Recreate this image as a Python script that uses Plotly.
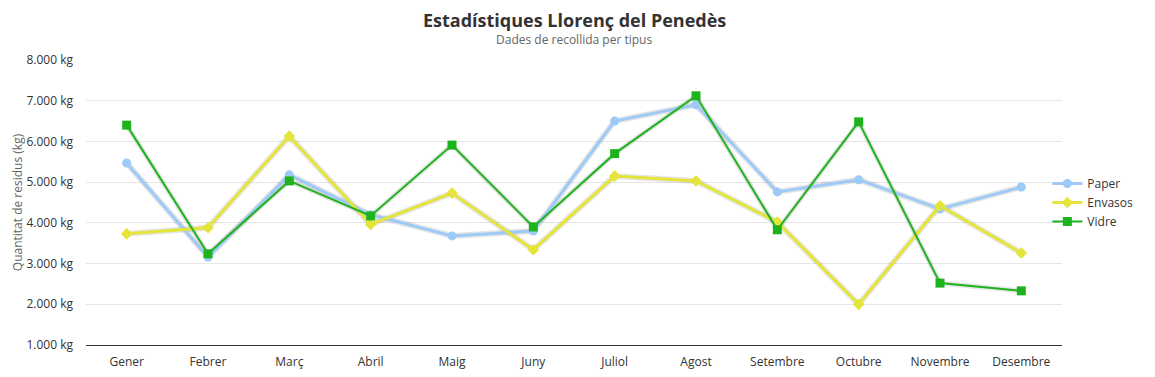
import plotly.graph_objects as go

months = ["Gener", "Febrer", "Març", "Abril", "Maig", "Juny", "Juliol",
          "Agost", "Setembre", "Octubre", "Novembre", "Desembre"]
paper = [5470, 3160, 5180, 4200, 3680, 3800, 6500, 6900, 4760, 5060, 4340, 4880]
envasos = [3730, 3880, 6130, 3960, 4730, 3340, 5150, 5030, 4020, 2000, 4420, 3260]
vidre = [6400, 3240, 5030, 4170, 5910, 3900, 5700, 7120, 3830, 6480, 2520, 2330]
y_ticks = [1000, 2000, 3000, 4000, 5000, 6000, 7000, 8000]
y_labels = [f"{v:,}".replace(",", ".") + " kg" for v in y_ticks]

series = [
    ("Paper", paper, "#9dcaf7", 3, "circle", 9),
    ("Envasos", envasos, "#e5e43a", 3, "diamond", 9),
    ("Vidre", vidre, "#1db31d", 2, "square", 9),
]

fig = go.Figure()
# soft shadows
for name, vals, color, w, sym, ms in series:
    fig.add_trace(go.Scatter(
        x=months, y=vals, mode="lines", showlegend=False, hoverinfo="skip",
        line=dict(color="rgba(0,0,0,0.10)", width=w + 3),
    ))
for name, vals, color, w, sym, ms in series:
    fig.add_trace(go.Scatter(
        x=months, y=vals, mode="lines+markers", name=name,
        line=dict(color=color, width=w),
        marker=dict(symbol=sym, size=ms, color=color),
    ))

font_family = "Open Sans, Noto Sans, sans-serif"
fig.update_layout(
    width=1139, height=361,
    margin=dict(l=78, r=85, t=52, b=24, autoexpand=False),
    paper_bgcolor="white", plot_bgcolor="white",
    font=dict(family=font_family, size=12, color="#333333"),
    showlegend=True,
    legend=dict(x=0.985, y=0.5, xanchor="left", yanchor="middle",
                font=dict(size=12, color="#333333"), itemwidth=30,
                tracegroupgap=0, bgcolor="rgba(0,0,0,0)"),
    annotations=[
        dict(text="<b>Estadístiques Llorenç del Penedès</b>", x=0.5, y=1,
             xref="paper", yref="paper", xanchor="center", yanchor="top",
             yshift=54, showarrow=False,
             font=dict(size=18, color="#333333", family=font_family)),
        dict(text="Dades de recollida per tipus", x=0.5, y=1,
             xref="paper", yref="paper", xanchor="center", yanchor="top",
             yshift=31, showarrow=False,
             font=dict(size=12, color="#666666", family=font_family)),
    ],
)
fig.update_xaxes(
    type="category", range=[-0.5, 11.5], showgrid=False,
    showline=True, linecolor="#333333", linewidth=1,
    ticks="", ticklabelstandoff=6, tickfont=dict(size=12, color="#333333"),
)
fig.update_yaxes(
    range=[1000, 8000], tickvals=y_ticks, ticktext=y_labels,
    showgrid=True, gridcolor="#e6e6e6", gridwidth=1, zeroline=False,
    showline=False, ticklabelstandoff=12,
    tickfont=dict(size=12, color="#333333"),
    title=dict(text="Quantitat de residus (kg)", standoff=0,
               font=dict(size=12, color="#666666")),
)

fig.write_html("out.html")
